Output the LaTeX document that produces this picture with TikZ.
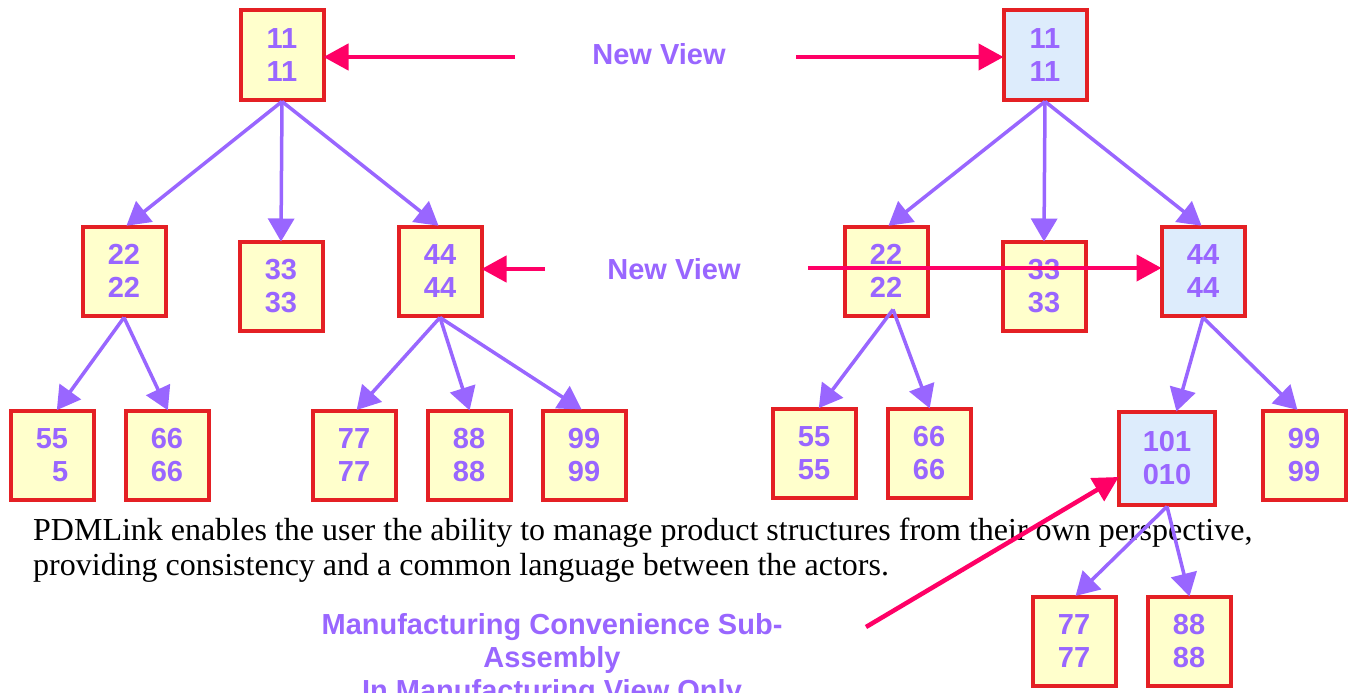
\documentclass[tikz,border=0pt]{standalone}
\usepackage{fontspec}
\setmainfont{Liberation Serif}
\setsansfont{Liberation Sans}
\usetikzlibrary{arrows.meta}
\definecolor{boxred}{RGB}{228,32,36}
\definecolor{paleyellow}{RGB}{255,255,204}
\definecolor{paleblue}{RGB}{221,236,252}
\definecolor{labelpurple}{RGB}{153,102,255}
\definecolor{hotpink}{RGB}{255,0,102}
\begin{document}
\begin{tikzpicture}[x=1pt,y=-1pt,
  item/.style={draw=boxred, line width=4pt, fill=paleyellow,
    minimum width=83pt, minimum height=89pt, inner sep=0pt, align=center,
    font=\sffamily\bfseries\fontsize{29}{33}\selectfont, text=labelpurple},
  changed/.style={item, fill=paleblue},
  link/.style={draw=labelpurple, line width=3.5pt, shorten >=-2pt,
    -{Triangle[length=23pt,width=26pt]}},
  cue/.style={draw=hotpink, line width=4.5pt, shorten >=-2pt,
    -{Triangle[length=25pt,width=26pt]}},
  caption/.style={text=labelpurple, font=\sffamily\bfseries\fontsize{29}{33}\selectfont, align=center},
  body/.style={anchor=base west, inner sep=0pt, text=black, font=\rmfamily\fontsize{32}{35}\selectfont},
]
\useasboundingbox (0,0) rectangle (1357,693);
\clip (0,0) rectangle (1357,693);

% explanatory text
\node[body] (t1) at (33,540) {PDMLink enables the user the ability to manage product structures from their own perspective,};
\node[body] (t2) at (33,575) {providing consistency and a common language between the actors.};
\node[caption] (note) at (552,660) {Manufacturing Convenience Sub-\\Assembly\\In Manufacturing View Only};

% design view
\node[item] (l11) at (282,55) {11\\11};
\node[item] (l22) at (124,271) {22\\22};
\node[item] (l33) at (281,286) {33\\33};
\node[item] (l44) at (440,271) {44\\44};
\node[item, align=right] (l55) at (52,455) {55\\5};
\node[item] (l66) at (167,455) {66\\66};
\node[item] (l77) at (354,455) {77\\77};
\node[item] (l88) at (469,455) {88\\88};
\node[item] (l99) at (584,455) {99\\99};

% manufacturing view
\node[changed] (r11) at (1045,55) {11\\11};
\node[item] (r22) at (886,271) {22\\22};
\node[item] (r33) at (1044,286) {33\\33};
\node[changed] (r44) at (1203,271) {44\\44};
\node[item] (r55) at (814,453) {55\\55};
\node[item] (r66) at (929,453) {66\\66};
\node[changed, minimum width=96pt, minimum height=93pt] (r101) at (1167,458) {101\\010};
\node[item] (r99) at (1304,455) {99\\99};
\node[item] (r77) at (1074,641) {77\\77};
\node[item] (r88) at (1189,641) {88\\88};

% structure links
\draw[link] (l11.south) -- ([xshift=4pt]l22.north);
\draw[link] (l11.south) -- (l33.north);
\draw[link] (l11.south) -- ([xshift=-3pt]l44.north);
\draw[link] (l22.south) -- ([xshift=6pt]l55.north);
\draw[link] (l22.south) -- (l66.north);
\draw[link] (l44.south) -- ([xshift=4pt]l77.north);
\draw[link] (l44.south) -- (l88.north);
\draw[link] (l44.south) -- ([xshift=-4pt]l99.north);

\draw[link] (r11.south) -- ([xshift=4pt]r22.north);
\draw[link] (r11.south) -- (r33.north);
\draw[link] (r11.south) -- ([xshift=-3pt]r44.north);
\draw[link] ([xshift=7pt,yshift=8pt]r22.south) -- ([xshift=6pt]r55.north);
\draw[link] ([xshift=7pt,yshift=8pt]r22.south) -- (r66.north);
\draw[link] (r44.south) -- ([xshift=10pt]r101.north);
\draw[link] (r44.south) -- ([xshift=-8pt]r99.north);
\draw[link] (r101.south) -- ([xshift=3pt]r77.north);
\draw[link] (r101.south) -- (r88.north);

% view labels and pointers
\node[caption] (nv1) at (659,54) {New View};
\node[caption] (nv2) at (674,269) {New View};
\coordinate (a1) at (515,57);
\coordinate (a2) at (796,57);
\coordinate (a3) at (545,269);
\coordinate (a4) at (808,268);
\coordinate (a5) at (866,627);
\draw[cue] (a1) -- (l11.east |- a1);
\draw[cue] (a2) -- (r11.west |- a2);
\draw[cue] (a3) -- (l44.east |- a3);
\draw[cue] (a4) -- (r44.west |- a4);
\draw[cue] (a5) -- ([yshift=-20pt]r101.west);
\end{tikzpicture}
\end{document}
